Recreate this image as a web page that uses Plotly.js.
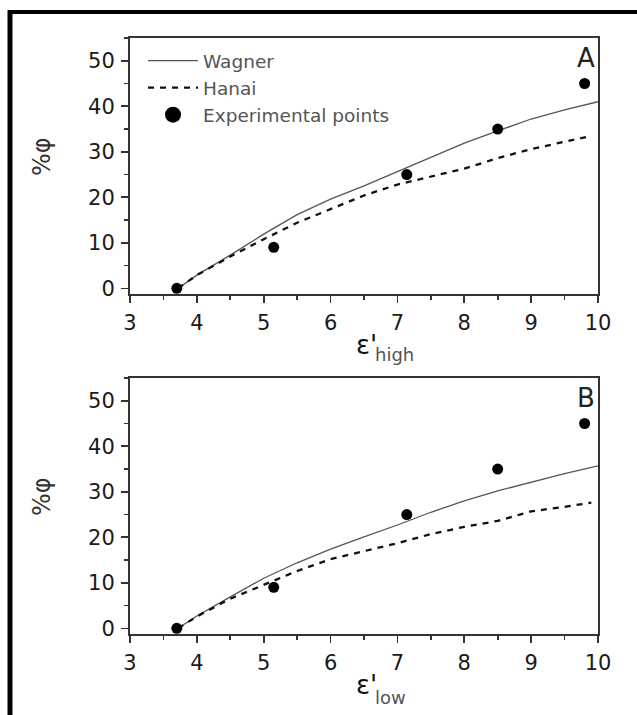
<!DOCTYPE html>
<html><head><meta charset="utf-8">
<script src="https://cdn.plot.ly/plotly-3.0.1.min.js"></script>
<style>html,body{margin:0;padding:0;background:#fff;} #chart{width:637px;height:715px;}</style>
</head><body><div id="chart"></div>
<script>
const W = 637, H = 715;
// experimental points (same in both panels)
const expX = [3.70, 5.15, 7.14, 8.50, 9.80];
const expY = [0, 9, 25, 35, 45];
// Panel A (epsilon' high)
const wagnerAX = [3.72, 4, 4.5, 5, 5.5, 6, 6.5, 7, 7.5, 8, 8.5, 9, 9.5, 10];
const wagnerAY = [0, 2.9, 7.3, 11.9, 16.2, 19.6, 22.5, 25.6, 28.8, 31.9, 34.6, 37.2, 39.2, 41.0];
const hanaiAX = [3.72, 4, 4.5, 5, 5.5, 6, 6.5, 7, 7.5, 8, 8.5, 9, 9.5, 9.9];
const hanaiAY = [0, 2.9, 7.0, 10.8, 14.4, 17.4, 20.4, 22.8, 24.6, 26.3, 28.6, 30.6, 32.2, 33.5];
// Panel B (epsilon' low)
const wagnerBX = [3.72, 4, 4.5, 5, 5.5, 6, 6.5, 7, 7.5, 8, 8.5, 9, 9.5, 10];
const wagnerBY = [0, 2.7, 6.9, 11.0, 14.4, 17.4, 20.1, 22.7, 25.5, 28.0, 30.2, 32.1, 34.0, 35.7];
const hanaiBX = [3.72, 4, 4.5, 5, 5.5, 6, 6.5, 7, 7.5, 8, 8.5, 9, 9.5, 9.9];
const hanaiBY = [0, 2.6, 6.5, 9.6, 12.6, 15.2, 17.0, 18.7, 20.7, 22.3, 23.6, 25.7, 26.7, 27.6];
// ticks
const xTicks = [3, 4, 5, 6, 7, 8, 9, 10];
const yTicks = [0, 10, 20, 30, 40, 50];
const names = ['Wagner', 'Hanai', 'Experimental points'];

const FONT = 'DejaVu Sans, Liberation Sans, Arial, sans-serif';
const px = v => v / W, py = v => 1 - v / H;

const wagnerLine = {color: '#555', width: 1.3};
const hanaiLine = {color: '#111', width: 2.3, dash: '6px,6px'};
const expMarker = {color: '#000', size: 11};

const traces = [
  {x: wagnerAX, y: wagnerAY, xaxis: 'x', yaxis: 'y', mode: 'lines', line: wagnerLine, name: names[0], showlegend: true},
  {x: hanaiAX, y: hanaiAY, xaxis: 'x', yaxis: 'y', mode: 'lines', line: hanaiLine, name: names[1], showlegend: true},
  {x: expX, y: expY, xaxis: 'x', yaxis: 'y', mode: 'markers', marker: expMarker, name: names[2], showlegend: false},
  {x: [null], y: [null], xaxis: 'x', yaxis: 'y', mode: 'markers', marker: {color: '#000', size: 16}, name: names[2], showlegend: true},
  {x: wagnerBX, y: wagnerBY, xaxis: 'x2', yaxis: 'y2', mode: 'lines', line: wagnerLine, name: names[0], showlegend: false},
  {x: hanaiBX, y: hanaiBY, xaxis: 'x2', yaxis: 'y2', mode: 'lines', line: hanaiLine, name: names[1], showlegend: false},
  {x: expX, y: expY, xaxis: 'x2', yaxis: 'y2', mode: 'markers', marker: expMarker, name: names[2], showlegend: false}
];

function xa(anchor) {
  return {
    domain: [px(130), px(598)], range: [3, 10], anchor: anchor,
    tickmode: 'array', tickvals: xTicks, ticktext: xTicks.map(String),
    ticks: 'outside', ticklen: 7, tickwidth: 1.6, tickcolor: '#333', ticklabelstandoff: 2,
    minor: {tickmode: 'linear', tick0: 3, dtick: 0.5, ticks: 'outside', ticklen: 4, tickwidth: 1.6, tickcolor: '#333', showgrid: false},
    showline: true, linecolor: '#333', linewidth: 2, mirror: true,
    showgrid: false, zeroline: false,
    tickfont: {family: FONT, size: 21, color: '#1a1a1a'}
  };
}
function ya(anchor, top, bottom) {
  return {
    domain: [py(bottom), py(top)], range: [-1.25, 55], anchor: anchor,
    tickmode: 'array', tickvals: yTicks, ticktext: yTicks.map(String),
    ticks: 'outside', ticklen: 7, tickwidth: 1.6, tickcolor: '#333', ticklabelstandoff: 2,
    minor: {tickmode: 'linear', tick0: 0, dtick: 5, ticks: 'outside', ticklen: 4, tickwidth: 1.6, tickcolor: '#333', showgrid: false},
    showline: true, linecolor: '#333', linewidth: 2, mirror: true,
    showgrid: false, zeroline: false,
    tickfont: {family: FONT, size: 21, color: '#1a1a1a'}
  };
}

const ann = (x, y, text, size, color, xanchor, yanchor, angle) => ({
  xref: 'paper', yref: 'paper', x: px(x), y: py(y), text: text, showarrow: false,
  font: {family: FONT, size: size, color: color}, xanchor: xanchor, yanchor: yanchor,
  textangle: angle || 0
});

const layout = {
  width: W, height: H,
  margin: {l: 0, r: 0, t: 0, b: 0},
  paper_bgcolor: '#fff', plot_bgcolor: '#fff',
  font: {family: FONT, color: '#222'},
  xaxis: xa('y'), yaxis: ya('x', 38, 294),
  xaxis2: xa('y2'), yaxis2: ya('x2', 378, 634),
  showlegend: true,
  legend: {
    x: px(143), y: py(42), xanchor: 'left', yanchor: 'top',
    bgcolor: 'rgba(0,0,0,0)', borderwidth: 0, itemwidth: 50,
    font: {family: FONT, size: 18.5, color: '#555'}, tracegroupgap: 0
  },
  annotations: [
    ann(597, 58, 'A', 26, '#222', 'right', 'middle'),
    ann(597, 398, 'B', 26, '#222', 'right', 'middle'),
    ann(42, 157, '%φ', 24, '#333', 'center', 'middle', -90),
    ann(42, 497, '%φ', 24, '#333', 'center', 'middle', -90),
    ann(379, 345, "ε'", 26, '#111', 'right', 'middle'),
    ann(373, 355, 'high', 18, '#555', 'left', 'middle'),
    ann(379, 685, "ε'", 26, '#111', 'right', 'middle'),
    ann(373, 697, 'low', 18, '#555', 'left', 'middle')
  ],
  shapes: [
    {type: 'line', xref: 'paper', yref: 'paper', x0: px(10), x1: 1, y0: py(12), y1: py(12), line: {color: '#000', width: 4}},
    {type: 'line', xref: 'paper', yref: 'paper', x0: px(10), x1: px(10), y0: py(10), y1: 0, line: {color: '#000', width: 5}}
  ]
};

Plotly.newPlot('chart', traces, layout, {displayModeBar: false, staticPlot: true});
</script>
</body></html>
